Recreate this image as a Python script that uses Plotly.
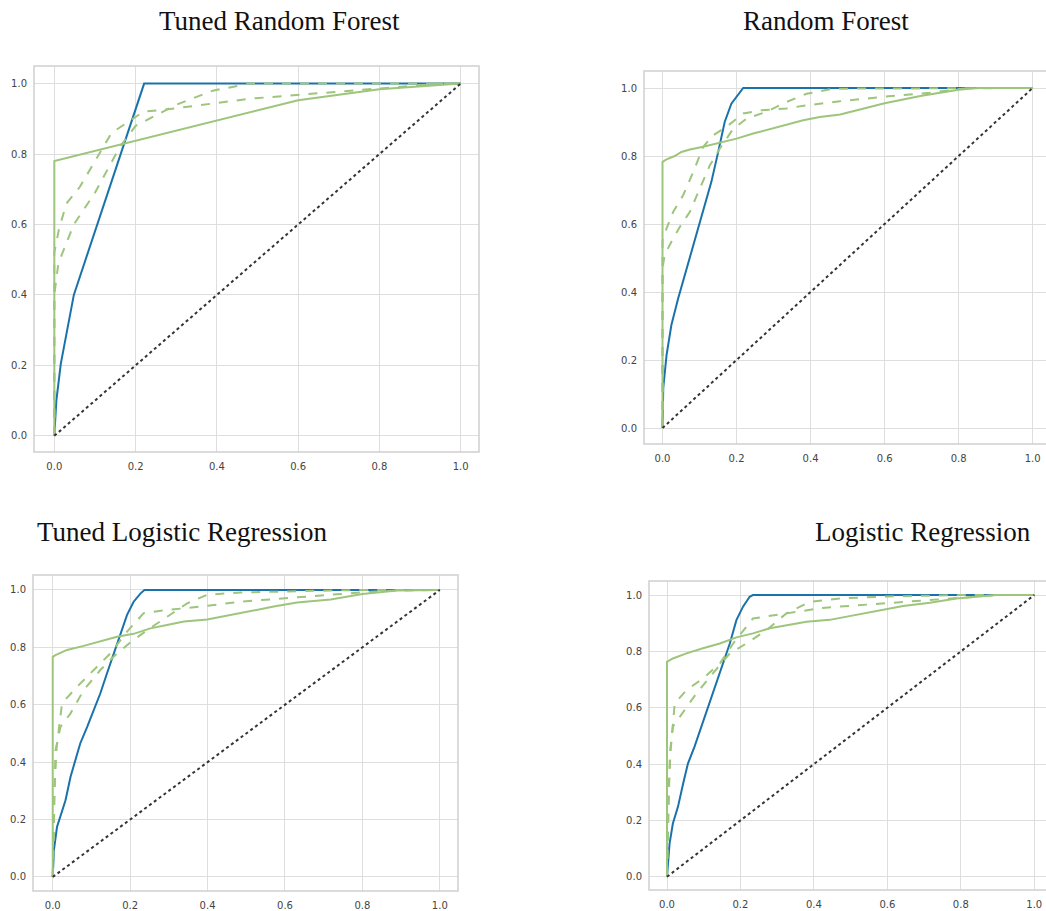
import plotly.graph_objects as go

# ---------------- data ----------------
titles = ["Tuned Random Forest", "Random Forest", "Tuned Logistic Regression", "Logistic Regression"]
tick_vals = [0, 0.2, 0.4, 0.6, 0.8, 1.0]
tick_text = ["0.0", "0.2", "0.4", "0.6", "0.8", "1.0"]
diag_x = [0, 1]
diag_y = [0, 1]

# Tuned Random Forest
trf_blue_x = [0, 0.005, 0.016, 0.048, 0.221, 1.0]
trf_blue_y = [0, 0.10, 0.205, 0.40, 1.0, 1.0]
trf_green_x = [0, 0, 0.6, 0.8, 1.0]
trf_green_y = [0, 0.78, 0.953, 0.984, 1.0]
trf_dashA_x = [0, 0, 0.012, 0.03, 0.063, 0.141, 0.219, 0.30, 0.48, 0.8, 0.95, 1.0]
trf_dashA_y = [0, 0.52, 0.59, 0.66, 0.707, 0.86, 0.92, 0.93, 0.957, 0.986, 1.0, 1.0]
trf_dashB_x = [0, 0, 0.01, 0.048, 0.10, 0.161, 0.20, 0.30, 0.39, 0.48, 1.0]
trf_dashB_y = [0, 0.40, 0.49, 0.60, 0.69, 0.82, 0.88, 0.94, 0.98, 1.0, 1.0]

# Random Forest
rf_blue_x = [0, 0.002, 0.011, 0.024, 0.042, 0.06, 0.078, 0.096, 0.114, 0.132, 0.15, 0.168, 0.186, 0.205, 0.218, 1.0]
rf_blue_y = [0, 0.117, 0.215, 0.303, 0.38, 0.45, 0.514, 0.587, 0.66, 0.724, 0.81, 0.90, 0.954, 0.983, 1.0, 1.0]
rf_green_x = [0, 0, 0.011, 0.033, 0.051, 0.074, 0.11, 0.155, 0.2, 0.245, 0.29, 0.335, 0.38, 0.425, 0.48, 0.6, 0.7, 0.8, 0.85, 1.0]
rf_green_y = [0, 0.783, 0.79, 0.80, 0.812, 0.819, 0.827, 0.839, 0.851, 0.866, 0.879, 0.89, 0.905, 0.915, 0.922, 0.955, 0.977, 0.995, 1.0, 1.0]
rf_dashA_x = [0, 0, 0.011, 0.029, 0.056, 0.083, 0.11, 0.137, 0.173, 0.218, 0.263, 0.335, 0.389, 0.479, 0.596, 0.722, 0.81, 0.86, 1.0]
rf_dashA_y = [0, 0.55, 0.587, 0.636, 0.685, 0.753, 0.827, 0.861, 0.886, 0.925, 0.934, 0.94, 0.949, 0.961, 0.974, 0.986, 0.998, 1.0, 1.0]
rf_dashB_x = [0, 0, 0.006, 0.024, 0.047, 0.074, 0.101, 0.128, 0.155, 0.191, 0.227, 0.281, 0.335, 0.389, 0.461, 1.0]
rf_dashB_y = [0, 0.47, 0.509, 0.548, 0.592, 0.636, 0.705, 0.773, 0.822, 0.88, 0.91, 0.93, 0.959, 0.983, 0.998, 1.0]

# Tuned Logistic Regression
tlr_blue_x = [0, 0.003, 0.011, 0.02, 0.033, 0.046, 0.059, 0.071, 0.089, 0.106, 0.123, 0.14, 0.158, 0.175, 0.192, 0.209, 0.227, 0.237, 1.0]
tlr_blue_y = [0, 0.093, 0.174, 0.209, 0.267, 0.349, 0.407, 0.465, 0.523, 0.581, 0.64, 0.709, 0.779, 0.849, 0.913, 0.959, 0.988, 1.0, 1.0]
tlr_green_x = [0, 0, 0.007, 0.037, 0.08, 0.123, 0.166, 0.209, 0.252, 0.295, 0.339, 0.399, 0.459, 0.519, 0.571, 0.631, 0.718, 0.8, 0.89, 1.0]
tlr_green_y = [0, 0.767, 0.773, 0.791, 0.805, 0.82, 0.837, 0.847, 0.866, 0.878, 0.89, 0.897, 0.913, 0.93, 0.942, 0.956, 0.967, 0.986, 0.998, 1.0]
tlr_dashA_x = [0, 0.004, 0.01, 0.024, 0.063, 0.106, 0.149, 0.192, 0.235, 0.295, 0.382, 0.485, 0.597, 0.718, 0.804, 0.89, 1.0]
tlr_dashA_y = [0, 0.30, 0.45, 0.605, 0.663, 0.721, 0.779, 0.855, 0.919, 0.93, 0.942, 0.959, 0.971, 0.983, 0.992, 0.998, 1.0]
tlr_dashB_x = [0, 0.004, 0.007, 0.02, 0.046, 0.08, 0.123, 0.166, 0.209, 0.244, 0.295, 0.347, 0.399, 0.485, 0.718, 0.8, 1.0]
tlr_dashB_y = [0, 0.25, 0.44, 0.523, 0.57, 0.651, 0.721, 0.779, 0.826, 0.86, 0.907, 0.953, 0.983, 0.991, 0.998, 1.0, 1.0]

# Logistic Regression
lr_blue_x = [0, 0.007, 0.016, 0.03, 0.044, 0.057, 0.075, 0.094, 0.112, 0.134, 0.153, 0.171, 0.189, 0.207, 0.225, 0.234, 1.0]
lr_blue_y = [0, 0.118, 0.189, 0.249, 0.331, 0.402, 0.462, 0.533, 0.604, 0.686, 0.757, 0.828, 0.911, 0.959, 0.994, 1.0, 1.0]
lr_green_x = [0, 0, 0.016, 0.053, 0.098, 0.144, 0.189, 0.234, 0.28, 0.325, 0.38, 0.443, 0.516, 0.589, 0.643, 0.716, 0.788, 0.897, 1.0]
lr_green_y = [0, 0.763, 0.775, 0.793, 0.811, 0.828, 0.85, 0.864, 0.882, 0.893, 0.905, 0.912, 0.929, 0.947, 0.961, 0.973, 0.988, 1.0, 1.0]
lr_dashA_x = [0, 0.004, 0.01, 0.021, 0.053, 0.098, 0.144, 0.18, 0.234, 0.325, 0.416, 0.47, 0.6, 0.72, 0.8, 0.9, 1.0]
lr_dashA_y = [0, 0.30, 0.45, 0.615, 0.663, 0.704, 0.757, 0.828, 0.917, 0.935, 0.953, 0.959, 0.972, 0.984, 0.99, 1.0, 1.0]
lr_dashB_x = [0, 0.004, 0.008, 0.016, 0.044, 0.08, 0.125, 0.171, 0.216, 0.271, 0.325, 0.389, 0.47, 0.6, 0.8, 1.0]
lr_dashB_y = [0, 0.25, 0.44, 0.533, 0.586, 0.651, 0.722, 0.793, 0.828, 0.876, 0.935, 0.976, 0.988, 0.995, 1.0, 1.0]

panels = [
    (trf_blue_x, trf_blue_y, trf_green_x, trf_green_y, trf_dashA_x, trf_dashA_y, trf_dashB_x, trf_dashB_y),
    (rf_blue_x, rf_blue_y, rf_green_x, rf_green_y, rf_dashA_x, rf_dashA_y, rf_dashB_x, rf_dashB_y),
    (tlr_blue_x, tlr_blue_y, tlr_green_x, tlr_green_y, tlr_dashA_x, tlr_dashA_y, tlr_dashB_x, tlr_dashB_y),
    (lr_blue_x, lr_blue_y, lr_green_x, lr_green_y, lr_dashA_x, lr_dashA_y, lr_dashB_x, lr_dashB_y),
]

# ---------------- layout geometry ----------------
W, H = 1046, 911

def px_x(p):
    return p / W

def px_y(p):
    return 1 - p / H

# plot-area pixel boxes (left, top, right, bottom) and axis ranges
boxes = [(34, 66, 479, 452), (644, 71, 1046, 444), (33, 575, 458, 891), (649, 581, 1046, 890)]
xranges = [[-0.05, 1.045], [-0.05, 1.036], [-0.051, 1.047], [-0.049, 1.032]]
yranges = [[-0.046, 1.05], [-0.047, 1.05], [-0.049, 1.052], [-0.047, 1.05]]
frame_right_px = [479, 1052, 458, 1052]
title_pos = [(279, 21), (826, 21), (182, 532), (923, 532)]

BLUE = "#1a72aa"
GREEN = "#9dc57c"
GRID = "#dedede"
FRAME = "#d0d0d0"

fig = go.Figure()
layout = dict(
    width=W, height=H, margin=dict(l=0, r=0, t=0, b=0),
    paper_bgcolor="white", plot_bgcolor="white", showlegend=False,
)
shapes = []
annotations = []

for i, (bx, by, gx, gy, ax_, ay, cx, cy) in enumerate(panels):
    n = "" if i == 0 else str(i + 1)
    xa, ya = "x" + n, "y" + n
    common = dict(xaxis=xa, yaxis=ya, mode="lines", hoverinfo="skip")
    fig.add_trace(go.Scatter(x=bx, y=by, line=dict(color=BLUE, width=2), **common))
    fig.add_trace(go.Scatter(x=gx, y=gy, line=dict(color=GREEN, width=2), **common))
    fig.add_trace(go.Scatter(x=ax_, y=ay, line=dict(color=GREEN, width=2, dash="dash"), **common))
    fig.add_trace(go.Scatter(x=cx, y=cy, line=dict(color=GREEN, width=2, dash="dash"), **common))
    fig.add_trace(go.Scatter(x=diag_x, y=diag_y, line=dict(color="#333333", width=2, dash="dot"), **common))

    l, t, r, b = boxes[i]
    layout["xaxis" + n] = dict(
        domain=[px_x(l), min(px_x(r), 1.0)], range=xranges[i], anchor=ya,
        tickvals=tick_vals, ticktext=tick_text, showgrid=True, gridcolor=GRID, gridwidth=1,
        zeroline=False, showline=False, ticks="outside", ticklen=5, tickcolor="rgba(0,0,0,0)",
        tickfont=dict(family="DejaVu Sans", size=10, color="#444444"), fixedrange=True,
    )
    layout["yaxis" + n] = dict(
        domain=[px_y(b), px_y(t)], range=yranges[i], anchor=xa,
        tickvals=tick_vals, ticktext=tick_text, showgrid=True, gridcolor=GRID, gridwidth=1,
        zeroline=False, showline=False, ticks="outside", ticklen=4, tickcolor="rgba(0,0,0,0)",
        tickfont=dict(family="DejaVu Sans", size=10, color="#444444"), fixedrange=True,
    )
    shapes.append(dict(
        type="rect", xref="paper", yref="paper",
        x0=px_x(l), x1=px_x(frame_right_px[i]), y0=px_y(b), y1=px_y(t),
        line=dict(color=FRAME, width=1.5), fillcolor="rgba(0,0,0,0)", layer="above",
    ))
    tx, ty = title_pos[i]
    annotations.append(dict(
        text=titles[i], x=px_x(tx), y=px_y(ty), xref="paper", yref="paper",
        xanchor="center", yanchor="middle", showarrow=False,
        font=dict(family="Liberation Serif", size=27, color="#111111"),
    ))

layout["shapes"] = shapes
layout["annotations"] = annotations
fig.update_layout(**layout)
# remove the default page margin so the figure fills the window exactly
fig.write_html(
    "out.html",
    config={"displayModeBar": False},
    post_script="document.body.style.margin='0';document.body.style.overflow='hidden';",
)
